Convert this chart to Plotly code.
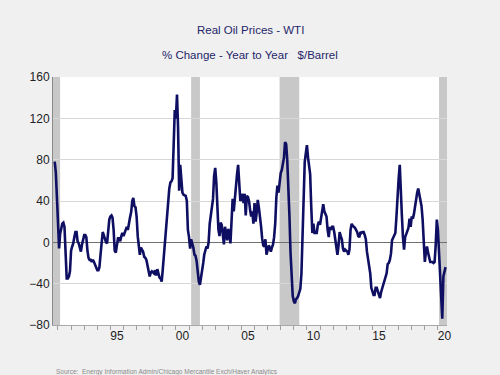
import pandas as pd
import plotly.graph_objects as go

# Real WTI oil price, % change year to year (monthly, Oct 1990 - Aug 2020)
yoy_1990s = [
    78, 68, 45,                                                  # 1990 Oct-Dec
    10, -6, 8, 15, 18, 19, 15, -10, -35, -35, -33, -28,          # 1991
    -8, -4, -1, 5, 10, 10, 1, -1, -5, -9, -2, 4,                 # 1992
    7, 7, 5, -8, -15, -17, -17, -19, -17, -19, -22, -25,         # 1993
    -27, -27, -24, -12, 2, 10, 7, 2, 0, -1, 12, 22,              # 1994
    25, 26, 24, 12, -8, -10, -3, 4, 4, 1, 6, 9,                  # 1995
    6, 10, 12, 15, 12, 20, 24, 29, 40, 43, 35, 34,               # 1996
    25, 6, -3, -12, -5, -7, -9, -14, -15, -17, -22, -28,         # 1997
    -33, -29, -28, -29, -30, -27, -32, -26, -32, -34, -35, -38,  # 1998
    -26, -12, 0, 10, 24, 36, 52, 58, 59, 62, 100, 128,           # 1999
]
yoy_2000s = [
    120, 143, 112, 50, 75, 55, 48, 46, 45, 45, 40, 12,           # 2000
    5, -6, 3, -1, -5, -12, -13, -18, -30, -38, -41, -35,         # 2001
    -30, -20, -12, -8, -4, -6, 0, 18, 27, 31, 42, 64,            # 2002
    72, 58, 25, 12, 6, 19, 17, 3, -2, 15, 10, 2,                 # 2003
    13, 8, -1, 22, 42, 30, 44, 52, 66, 75, 58, 40,               # 2004
    42, 47, 38, 47, 26, 45, 44, 40, 31, 25, 30, 18,              # 2005
    38, 20, 28, 41, 34, 27, 16, 4, -3, -4, 3, -12,               # 2006
    -6, -3, -5, -9, -5, -2, 5, 18, 43, 55, 48, 62,               # 2007
    67, 70, 76, 82, 97, 95, 80, 58, 25, -10, -38, -52,           # 2008
    -57, -59, -55, -54, -52, -49, -45, -30, 2, 45, 78, 86,       # 2009
]
yoy_2010s = [
    94, 82, 72, 66, 35, 9, 18, 9, 9, 9, 17, 20,                  # 2010
    17, 24, 30, 37, 30, 27, 25, 12, 5, 15, 12, 15,               # 2011
    15, 10, 4, -6, -12, -3, 10, 6, 3, -6, -9, -7,                # 2012
    -8, -9, -12, -7, 12, 18, 16, 15, 14, 12, 10, 6,              # 2013
    5, 10, 9, 10, 10, 7, 3, -9, -15, -20, -30, -44,              # 2014
    -49, -51, -51, -44, -44, -47, -51, -54, -48, -44, -42, -36,  # 2015
    -33, -30, -21, -20, -17, -11, 2, 5, 7, 9, 25, 52,            # 2016
    62, 75, 45, 26, 5, -7, 5, 8, 11, 14, 23, 15,                 # 2017
    25, 23, 27, 35, 43, 48, 52, 47, 40, 35, 22, 3,               # 2018
    -19, -9, -4, -10, -15, -19, -19, -19, -20, -19, -2, 22,      # 2019
]
yoy_2020 = [12, -12, -30, -55, -74, -33, -28, -24]              # 2020 Jan-Aug

series_start = "1990-10-01"

# Recession periods (shaded)
rec_start = ["1990-07-01", "2001-03-01", "2007-12-01", "2020-02-01"]
rec_end = ["1991-03-01", "2001-11-01", "2009-06-01", "2020-12-01"]

# Axis
x_range = ["1990-08-15", "2020-09-10"]
tick_dates = ["1995-07-01", "2000-07-01", "2005-07-01", "2010-07-01", "2015-07-01", "2020-07-01"]
tick_text = ["95", "00", "05", "10", "15", "20"]
y_ticks = [-80, -40, 0, 40, 80, 120, 160]

values = yoy_1990s + yoy_2000s + yoy_2010s + yoy_2020
dates = pd.date_range(series_start, periods=len(values), freq="MS")

fig = go.Figure()
fig.add_trace(go.Scatter(
    x=dates, y=values, mode="lines",
    line=dict(color="#0e0e62", width=2.6),
    hoverinfo="x+y", showlegend=False,
))

for s, e in zip(rec_start, rec_end):
    fig.add_shape(type="rect", xref="x", yref="y", x0=s, x1=e, y0=-80, y1=160,
                  fillcolor="#c8c8c8", line=dict(width=0), layer="below")

font_main = "Liberation Sans, Arial, sans-serif"

fig.update_layout(
    width=500, height=375,
    margin=dict(l=53, r=53, t=77, b=50),
    paper_bgcolor="#f0f0f0",
    plot_bgcolor="#ffffff",
    font=dict(family=font_main, size=12, color="#222222"),
    xaxis=dict(
        type="date", range=x_range,
        tickmode="array", tickvals=tick_dates, ticktext=tick_text,
        ticks="", showgrid=False, zeroline=False,
        showline=True, linecolor="#a8a8a8", linewidth=1,
        tickfont=dict(size=12, color="#222222"),
        minor=dict(ticks="outside", ticklen=4, tickcolor="#a0a0a0",
                   dtick="M12", tick0="1991-01-01", showgrid=False),
    ),
    yaxis=dict(
        range=[-80, 160], tickmode="array", tickvals=y_ticks,
        ticks="", showgrid=True, gridcolor="#d8d8d8", gridwidth=1,
        zeroline=True, zerolinecolor="#707070", zerolinewidth=1,
        showline=True, linecolor="#8a8a8a", linewidth=1,
        tickfont=dict(size=12, color="#222222"),
    ),
    annotations=[
        dict(text="Real Oil Prices - WTI", xref="paper", yref="paper",
             x=0.5, y=1, yshift=47, showarrow=False, xanchor="center", yanchor="middle",
             font=dict(size=11.5, color="#25256a", family=font_main)),
        dict(text="% Change - Year to Year\u00a0\u00a0\u00a0$/Barrel", xref="paper", yref="paper",
             x=0.5, y=1, yshift=22, showarrow=False, xanchor="center", yanchor="middle",
             font=dict(size=11.5, color="#25256a", family=font_main)),
        dict(text="Source:\u00a0\u00a0Energy Information Admin/Chicago Mercantile Exch/Haver Analytics",
             xref="paper", yref="paper", x=0, y=0, yshift=-47, xshift=1,
             showarrow=False, xanchor="left", yanchor="middle",
             font=dict(size=6.5, color="#8a8a8a", family=font_main)),
    ],
)

fig.write_html(
    "out.html",
    config={"displayModeBar": False},
    post_script="document.body.style.margin='0';document.body.style.padding='0';"
                "document.body.style.background='#f0f0f0';document.body.style.overflow='hidden';",
)
